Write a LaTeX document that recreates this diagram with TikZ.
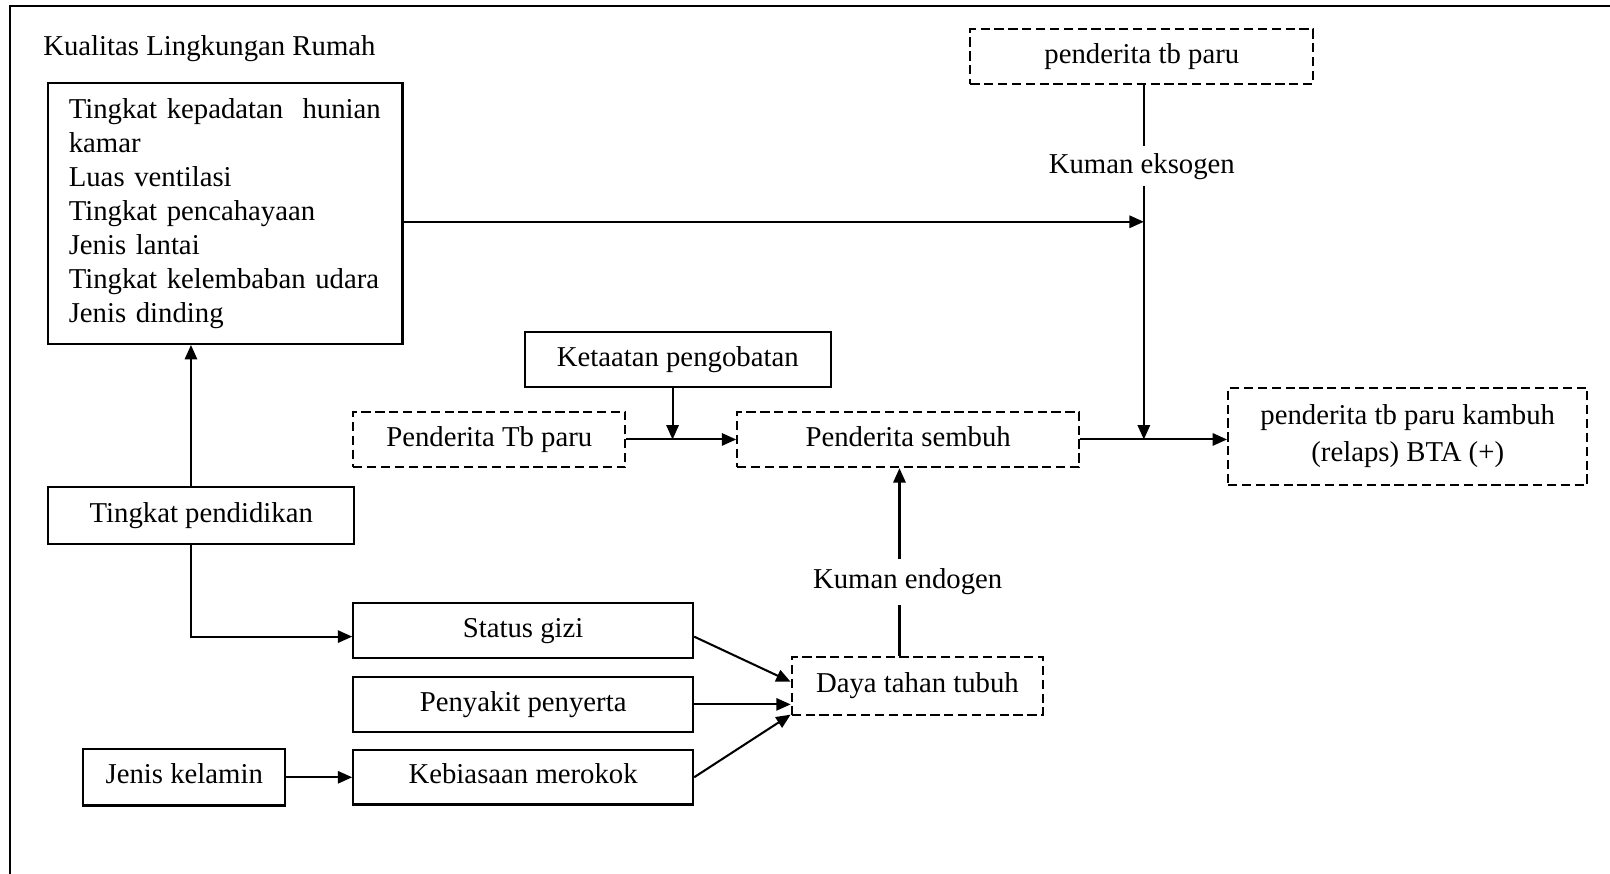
\documentclass[tikz,border=0pt]{standalone}
\usepackage{fontspec}
\setmainfont{Liberation Serif}
\usetikzlibrary{arrows.meta}
\begin{document}
\begin{tikzpicture}[x=1pt,y=-1pt,
  every node/.style={font=\fontsize{28}{33}\selectfont},
  frame/.style={draw, line width=2pt, inner sep=0pt},
  box/.style={frame, text height=19pt, text depth=6pt},
  dbox/.style={box, dash pattern=on 9pt off 4.5pt},
  lbl/.style={inner sep=0pt, outer sep=7pt, text height=19pt, text depth=6pt},
  arr/.style={line width=2pt, -{Triangle[length=14pt,width=12pt]}},
  ln/.style={line width=2pt}]
\useasboundingbox (0,0) rectangle (1568,851);
\draw[ln] (10,860) -- (10,6) -- (1580,6);

\node[anchor=west, inner sep=0pt] (title) at (42,47) {Kualitas Lingkungan Rumah};
\node[frame, minimum width=345pt, minimum height=254pt, text width=305pt, align=left] (env) at (219.5,208)
  {Tingkat kepadatan\ \ hunian\\kamar\\Luas ventilasi\\Tingkat pencahayaan\\Jenis lantai\\Tingkat kelembaban udara\\Jenis dinding};
\node[dbox, minimum width=334pt, minimum height=53pt] (tbp) at (1112,55) {penderita tb paru};
\node[lbl] (keks) at (1112,162) {Kuman eksogen};
\node[box, minimum width=298pt, minimum height=54pt] (kp) at (660,350) {Ketaatan pengobatan};
\node[dbox, minimum width=265pt, minimum height=54pt] (ptb) at (476.5,428) {Penderita Tb paru};
\node[dbox, minimum width=333pt, minimum height=54pt] (sem) at (884.5,428) {Penderita sembuh};
\node[frame, dash pattern=on 9pt off 4.5pt, minimum width=350pt, minimum height=94pt, align=center] (rel) at (1371,425)
  {penderita tb paru kambuh\\[3pt](relaps) BTA (+)};
\node[box, minimum width=298pt, minimum height=56pt] (pend) at (196,502) {Tingkat pendidikan};
\node[lbl, outer sep=10pt] (ken) at (884,567) {Kuman endogen};
\node[box, minimum width=331pt, minimum height=53pt] (gizi) at (509.5,614) {Status gizi};
\node[box, minimum width=331pt, minimum height=53pt] (peny) at (509.5,686) {Penyakit penyerta};
\node[box, minimum width=331pt, minimum height=53pt] (rok) at (509.5,757) {Kebiasaan merokok};
\node[box, minimum width=197pt, minimum height=55pt] (jk) at (179.5,757) {Jenis kelamin};
\node[dbox, minimum width=245pt, minimum height=56pt] (daya) at (893.5,668) {Daya tahan tubuh};

\coordinate (ex) at (1114,216);
\coordinate (jr) at (1114,428);
\coordinate (jk2) at (655,428);
\coordinate (ax) at (876,0);
\coordinate (cx) at (186,620);

\draw[arr] (env.east |- ex) -- (ex);
\draw[ln] (tbp.south -| ex) -- (keks.north -| ex);
\draw[arr] (keks.south -| ex) -- (jr);
\draw[arr] (kp.south -| jk2) -- (jk2);
\draw[arr] (ptb.east) -- (sem.west);
\draw[arr] (sem.east) -- (rel.west |- sem.east);
\draw[ln] (daya.north -| ax) -- (ken.south -| ax);
\draw[arr] (ken.north -| ax) -- (sem.south -| ax);
\draw[arr] (pend.north -| cx) -- (env.south -| cx);
\draw[arr] (pend.south -| cx) -- (cx) -- (gizi.west |- cx);
\draw[arr] (jk.east) -- (rok.west);
\draw[arr] ([yshift=-6pt]gizi.east) -- ([yshift=4pt]daya.west);
\draw[arr] (peny.east) -- ([yshift=-18pt]daya.west);
\draw[arr] (rok.east) -- ([yshift=-28pt]daya.west);
\end{tikzpicture}
\end{document}
